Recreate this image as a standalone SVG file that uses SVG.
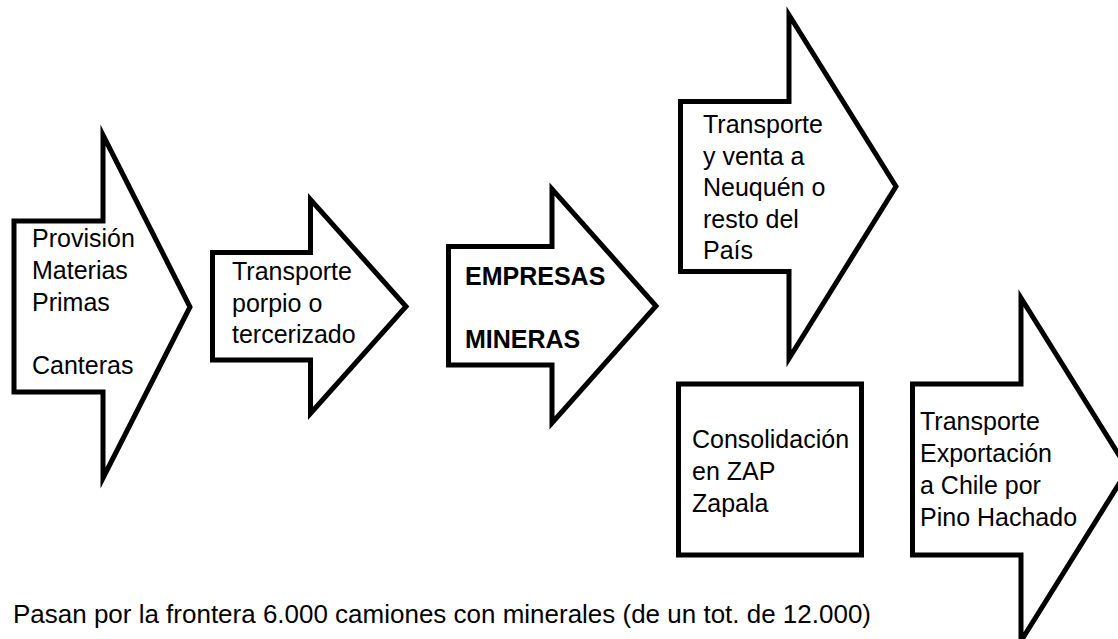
<svg xmlns="http://www.w3.org/2000/svg" width="1118" height="639" viewBox="0 0 1118 639">
<style>
.shape{fill:#fff;stroke:#000;stroke-width:5;stroke-linejoin:miter;stroke-miterlimit:10}
.t{font-family:"Liberation Sans",Arial,sans-serif;font-size:25px;fill:#000}
.b{font-weight:bold}
.note{font-family:"Liberation Sans",Arial,sans-serif;font-size:26px;fill:#000}
</style>
<rect width="1118" height="639" fill="#fff"/>
<g id="connectors"/>
<g id="n1">
<polygon class="shape" points="14,221 103,221 103,135 190,307 103,478 103,392 14,392"/>
<text class="t"><tspan x="32" y="247">Provisión</tspan><tspan x="32" y="279">Materias</tspan><tspan x="32" y="310.5">Primas</tspan><tspan x="32" y="373.5">Canteras</tspan></text>
</g>
<g id="n2">
<polygon class="shape" points="212.5,252.5 310.5,252.5 310.5,199.5 406,306.5 310.5,413.5 310.5,360 212.5,360"/>
<text class="t"><tspan x="232" y="280">Transporte</tspan><tspan x="232" y="311.5">porpio o</tspan><tspan x="232" y="343">tercerizado</tspan></text>
</g>
<g id="n3">
<polygon class="shape" points="448.5,246.5 552,246.5 552,189 656,306 552,423 552,365 448.5,365"/>
<text class="t b"><tspan x="465" y="285">EMPRESAS</tspan><tspan x="465" y="348">MINERAS</tspan></text>
</g>
<g id="n4">
<polygon class="shape" points="680.5,101.5 789,101.5 789,15 896,186.5 789,358.5 789,271.5 680.5,271.5"/>
<text class="t"><tspan x="703" y="133">Transporte</tspan><tspan x="703" y="164.5">y venta a</tspan><tspan x="703" y="196">Neuquén o</tspan><tspan x="703" y="227.5">resto del</tspan><tspan x="703" y="259">País</tspan></text>
</g>
<g id="n5">
<rect class="shape" x="678.5" y="384" width="183" height="171"/>
<text class="t"><tspan x="692" y="448">Consolidación</tspan><tspan x="692" y="480">en ZAP</tspan><tspan x="692" y="512">Zapala</tspan></text>
</g>
<g id="n6">
<polygon class="shape" points="912.5,384 1021,384 1021,298 1128,469.5 1021,641 1021,555 912.5,555"/>
<text class="t"><tspan x="920" y="430">Transporte</tspan><tspan x="920" y="462">Exportación</tspan><tspan x="920" y="494">a Chile por</tspan><tspan x="920" y="526">Pino Hachado</tspan></text>
</g>
<g id="note">
<text class="note" x="13" y="623" textLength="858" lengthAdjust="spacingAndGlyphs">Pasan por la frontera 6.000 camiones con minerales (de un tot. de 12.000)</text>
</g>
</svg>
